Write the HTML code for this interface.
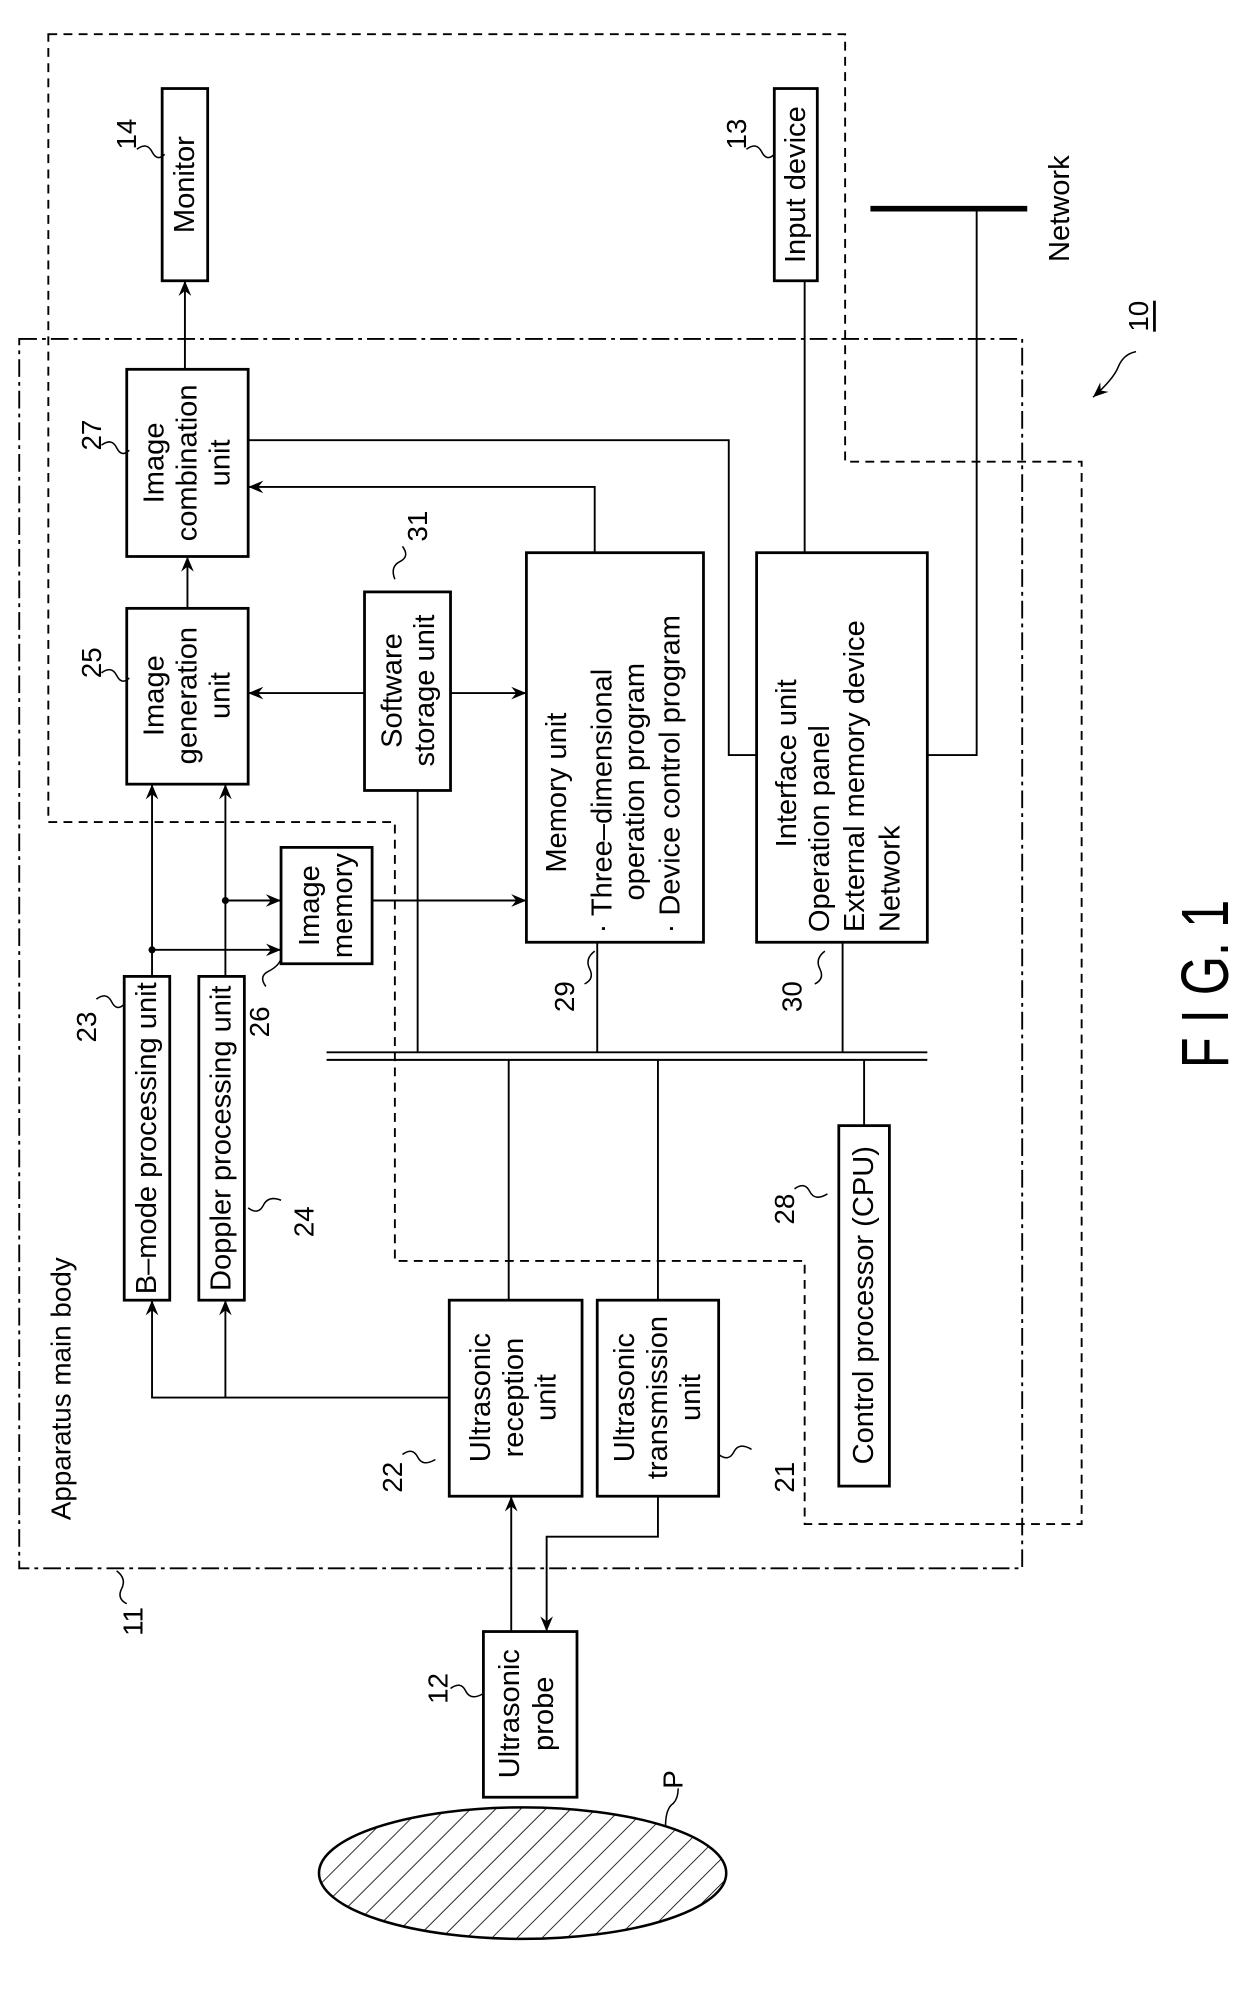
<!DOCTYPE html>
<html><head><meta charset="utf-8"><style>
html,body{margin:0;padding:0;background:#fff;}
svg{display:block;}
text{font-family:"Liberation Sans",sans-serif;fill:#000;}
</style></head><body>
<svg width="1240" height="1992" viewBox="0 0 980 1575" xmlns="http://www.w3.org/2000/svg">
<defs>
<marker id="a" viewBox="0 0 12 10" refX="12" refY="5" markerWidth="12" markerHeight="10" markerUnits="userSpaceOnUse" orient="auto">
<path d="M0,0 L12,5 L0,10 L4,5 Z" fill="#000"/>
</marker>
<pattern id="h" width="14" height="14" patternUnits="userSpaceOnUse" patternTransform="rotate(45)">
<line x1="0" y1="0" x2="0" y2="14" stroke="#000" stroke-width="1.3"/>
</pattern>
</defs>
<g fill="none" stroke="#000" stroke-width="1.5">
<path d="M38,27 H668 V365 H855 V1205 H636 V997 H312 V650 H38 Z" stroke-dasharray="7,5"/>
<rect x="15" y="268" width="793" height="972" stroke-dasharray="14,4,3,4"/>
<g stroke-width="2.2">
<rect x="128" y="70" width="36" height="152"/>
<rect x="612" y="70" width="34" height="152"/>
<rect x="100" y="292" width="96" height="148"/>
<rect x="100" y="481" width="96" height="139"/>
<rect x="288" y="468" width="68" height="157"/>
<rect x="416" y="437" width="140" height="308"/>
<rect x="598" y="437" width="135" height="308"/>
<rect x="98" y="772" width="36" height="256"/>
<rect x="157" y="772" width="36" height="256"/>
<rect x="222" y="670" width="72" height="92"/>
<rect x="355" y="1028" width="105" height="155"/>
<rect x="472" y="1028" width="96" height="155"/>
<rect x="663" y="890" width="40" height="285"/>
<rect x="382" y="1290" width="74" height="131"/>
</g>
<line x1="688" y1="165" x2="812" y2="165" stroke-width="4.5"/>
<path d="M772,165 V597 H733"/>
<line x1="148" y1="481" x2="148" y2="440" marker-end="url(#a)"/>
<line x1="146" y1="292" x2="146" y2="222" marker-end="url(#a)"/>
<path d="M196,348 H576 V597 H598"/>
<path d="M470,437 V385 H196" marker-end="url(#a)"/>
<line x1="288" y1="548" x2="196" y2="548" marker-end="url(#a)"/>
<line x1="356" y1="548" x2="416" y2="548" marker-end="url(#a)"/>
<line x1="330" y1="625" x2="330" y2="832"/>
<line x1="636" y1="437" x2="636" y2="222"/>
<line x1="120" y1="772" x2="120" y2="620" marker-end="url(#a)"/>
<line x1="178" y1="772" x2="178" y2="620" marker-end="url(#a)"/>
<line x1="120" y1="751" x2="222" y2="751" marker-end="url(#a)"/>
<line x1="178" y1="712" x2="222" y2="712" marker-end="url(#a)"/>
<line x1="294" y1="712" x2="416" y2="712" marker-end="url(#a)"/>
<line x1="258" y1="832" x2="733" y2="832"/>
<line x1="258" y1="838" x2="733" y2="838"/>
<line x1="472" y1="745" x2="472" y2="832"/>
<line x1="666" y1="745" x2="666" y2="832"/>
<line x1="402" y1="838" x2="402" y2="1028"/>
<line x1="520" y1="838" x2="520" y2="1028"/>
<line x1="683" y1="838" x2="683" y2="890"/>
<path d="M355,1105 H120 V1028" marker-end="url(#a)"/>
<line x1="178" y1="1105" x2="178" y2="1028" marker-end="url(#a)"/>
<line x1="404" y1="1290" x2="404" y2="1183" marker-end="url(#a)"/>
<path d="M520,1183 V1215 H432 V1290" marker-end="url(#a)"/>
<ellipse cx="413" cy="1481" rx="161" ry="52" fill="url(#h)" stroke-width="2"/>
<g stroke-width="1.2">
<path d="M108,118 q8,-6 12,2 q4,8 10,2"/>
<path d="M590,118 q8,-6 12,2 q4,8 10,2"/>
<path d="M80,352 q8,-6 12,2 q4,8 10,2"/>
<path d="M80,532 q8,-6 12,2 q4,8 10,2"/>
<path d="M76,790 q8,-6 12,2 q4,8 10,2"/>
<path d="M210,780 q-6,-8 2,-12 q8,-4 10,-10"/>
<path d="M196,955 q8,6 12,-2 q4,-8 14,-4"/>
<path d="M318,432 q6,8 -2,12 q-8,4 -4,14"/>
<path d="M628,940 q8,-6 12,2 q4,8 14,2"/>
<path d="M318,1150 q8,-6 12,2 q4,8 14,2"/>
<path d="M568,1150 q8,6 12,-2 q4,-8 14,-2"/>
<path d="M356,1335 q8,-6 12,2 q4,8 14,2"/>
<path d="M470,752 q-8,6 -4,14 q4,8 -4,12"/>
<path d="M652,752 q-8,6 -4,14 q4,8 -4,12"/>
<path d="M92,1242 q8,6 4,14 q-4,8 4,12"/>
<path d="M526,1444 q0,-14 6,-18 q4,-4 4,-12"/>
<path d="M898,278 q-10,2 -14,12 q-4,10 -20,24" marker-end="url(#a)"/>
</g>
</g>
<circle cx="120" cy="751" r="2.8"/>
<circle cx="178" cy="712" r="2.8"/>
<g font-size="23" text-anchor="middle" dominant-baseline="central">
<text transform="translate(146,146) rotate(-90)">Monitor</text>
<text transform="translate(629,146) rotate(-90)">Input device</text>
<text transform="translate(838,165) rotate(-90)">Network</text>
<text transform="translate(122,366) rotate(-90)">Image</text>
<text transform="translate(148,366) rotate(-90)">combination</text>
<text transform="translate(174,366) rotate(-90)">unit</text>
<text transform="translate(122,550) rotate(-90)">Image</text>
<text transform="translate(148,550) rotate(-90)">generation</text>
<text transform="translate(174,550) rotate(-90)">unit</text>
<text transform="translate(310,546) rotate(-90)">Software</text>
<text transform="translate(336,546) rotate(-90)">storage unit</text>
<text transform="translate(245,716) rotate(-90)">Image</text>
<text transform="translate(271,716) rotate(-90)">memory</text>
<text transform="translate(116,900) rotate(-90)">B–mode processing unit</text>
<text transform="translate(175,900) rotate(-90)">Doppler processing unit</text>
<text transform="translate(380,1105) rotate(-90)">Ultrasonic</text>
<text transform="translate(406,1105) rotate(-90)">reception</text>
<text transform="translate(432,1105) rotate(-90)">unit</text>
<text transform="translate(494,1105) rotate(-90)">Ultrasonic</text>
<text transform="translate(520,1105) rotate(-90)">transmission</text>
<text transform="translate(546,1105) rotate(-90)">unit</text>
<text transform="translate(683,1032) rotate(-90)">Control processor (CPU)</text>
<text transform="translate(403,1355) rotate(-90)">Ultrasonic</text>
<text transform="translate(430,1355) rotate(-90)">probe</text>
<text transform="translate(48,1098) rotate(-90)" font-size="22">Apparatus main body</text>
</g>
<g font-size="23" text-anchor="start" dominant-baseline="central">
<text transform="translate(440,690) rotate(-90)">Memory unit</text>
<text transform="translate(476,738) rotate(-90)">· Three–dimensional</text>
<text transform="translate(502,712) rotate(-90)">operation program</text>
<text transform="translate(530,738) rotate(-90)">· Device control program</text>
<text transform="translate(622,670) rotate(-90)">Interface unit</text>
<text transform="translate(648,737) rotate(-90)">Operation panel</text>
<text transform="translate(676,737) rotate(-90)">External memory device</text>
<text transform="translate(704,737) rotate(-90)">Network</text>
</g>
<g font-size="22" text-anchor="middle" dominant-baseline="central">
<text transform="translate(100,106) rotate(-90)">14</text>
<text transform="translate(582,106) rotate(-90)">13</text>
<text transform="translate(72,344) rotate(-90)">27</text>
<text transform="translate(72,524) rotate(-90)">25</text>
<text transform="translate(330,416) rotate(-90)">31</text>
<text transform="translate(68,812) rotate(-90)">23</text>
<text transform="translate(240,966) rotate(-90)">24</text>
<text transform="translate(205,808) rotate(-90)">26</text>
<text transform="translate(446,788) rotate(-90)">29</text>
<text transform="translate(626,788) rotate(-90)">30</text>
<text transform="translate(620,956) rotate(-90)">28</text>
<text transform="translate(310,1168) rotate(-90)">22</text>
<text transform="translate(620,1168) rotate(-90)">21</text>
<text transform="translate(346,1335) rotate(-90)">12</text>
<text transform="translate(105,1282) rotate(-90)">11</text>
<text transform="translate(532,1407) rotate(-90)">P</text>
<text transform="translate(900,250) rotate(-90)" text-decoration="underline">10</text>
<text transform="translate(953,778) rotate(-90)" font-size="53" textLength="133" lengthAdjust="spacingAndGlyphs">F I G. 1</text>
</g>
</svg>
</body></html>
